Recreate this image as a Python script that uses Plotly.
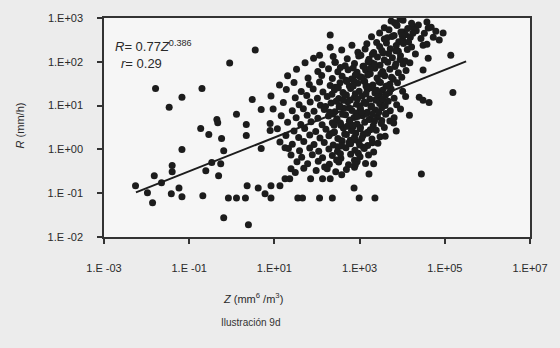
import numpy as np
import plotly.graph_objects as go

# ---- Observations: log10 of reflectivity Z (mm^6/m^3) and rain rate R (mm/h) ----
# Isolated low-reflectivity points
sparse_log_z = [0.55, -0.05, -1.79, -0.70, -1.17, -1.47, 0.48, 0.69, 0.11, -0.35,
                -0.73, 0.34, -0.54, 0.34, 0.90, 0.90, -0.24, -0.19, -1.17, 0.69,
                -1.40, -1.40, -1.82, -1.65, -2.26, -1.98, -1.86, -1.42, -1.24, -1.17,
                -0.68, -0.61, -0.47, -0.31, -0.26, -0.08, 0.11, 0.32, 0.36, 0.62,
                0.78, 0.92, 0.92, -0.19, 0.39, -0.33]
sparse_log_r = [2.27, 1.97, 1.39, 1.39, 1.19, 0.96, 1.14, 0.91, 0.80, 0.68,
                0.48, 0.57, 0.34, 0.32, 0.59, 0.43, 0.25, -0.03, 0.00, 0.02,
                -0.37, -0.51, -0.60, -0.76, -0.83, -0.99, -1.22, -1.01, -0.88, -1.08,
                -1.06, -0.49, -0.30, -0.60, -0.33, -1.11, -1.11, -1.11, -0.83, -0.88,
                -1.01, -1.11, -0.83, -1.56, -1.72, 0.61]

# Points below / right of the main cloud
edge_log_z = [4.45, 3.22, 3.33, 2.87, 2.99, 3.36, 2.36, 2.06, 1.55, 1.66,
              2.13, 2.31, 1.85, 1.25, 1.36, 1.39, 1.13, 2.94, 1.25,
              2.31, 2.31, 2.06, 2.43, 3.82, 4.03, 4.26, 4.61, 4.96, 4.73,
              4.49, 4.87, 5.14, 4.61, 4.49, 5.19, 4.40, 4.63, 4.49, 4.17]
edge_log_r = [-0.56, -0.56, -0.33, -0.88, -1.11, -1.11, -1.11, -1.11, -1.11, -1.11,
              -0.67, -0.67, -0.67, -0.67, -0.67, -0.44, -0.83, -0.26, 0.04,
              2.61, 2.33, 2.15, 1.99, 2.89, 2.68, 2.79, 2.77, 2.66, 2.56,
              2.38, 2.50, 2.15, 2.08, 1.81, 1.30, 1.19, 1.07, 1.12, 0.78]

# Main cloud, as (log10 Z, log10 R) pairs, scanned from top to bottom
cloud_pairs = [
    (3.74, 2.93), (3.86, 2.86), (4.02, 2.95), (4.22, 2.88), (4.58, 2.91), (3.95, 2.97),
    (3.58, 2.78), (3.88, 2.83), (4.13, 2.76), (4.38, 2.84), (4.68, 2.79), (4.30, 2.72),
    (3.47, 2.66), (3.69, 2.73), (3.97, 2.68), (4.08, 2.62), (4.33, 2.71), (4.52, 2.65),
    (4.79, 2.70), (3.81, 2.60),
    (3.28, 2.57), (3.58, 2.52), (3.76, 2.58), (4.01, 2.50), (4.19, 2.56), (4.44, 2.53),
    (3.92, 2.46), (3.40, 2.44),
    (2.82, 2.38), (3.17, 2.41), (3.47, 2.35), (3.63, 2.43), (3.86, 2.37), (4.03, 2.42),
    (4.22, 2.34), (4.58, 2.40), (3.72, 2.30),
    (2.58, 2.27), (2.96, 2.22), (3.13, 2.29), (3.33, 2.21), (3.52, 2.26), (3.68, 2.19),
    (3.91, 2.24), (4.12, 2.28), (4.31, 2.18), (3.03, 2.15),
    (2.38, 2.12), (2.71, 2.07), (2.98, 2.13), (3.22, 2.06), (3.42, 2.11), (3.58, 2.04),
    (3.77, 2.09), (3.96, 2.14), (4.07, 2.02), (1.92, 2.08), (3.30, 2.17),
    (1.72, 1.98), (2.12, 1.93), (2.42, 1.99), (2.66, 1.91), (2.88, 1.96), (3.08, 1.90),
    (3.29, 1.97), (3.48, 1.92), (3.66, 1.99), (3.83, 1.89), (4.02, 1.95), (4.18, 1.98),
    (2.55, 1.87),
    (1.52, 1.83), (2.02, 1.78), (2.27, 1.84), (2.49, 1.77), (2.73, 1.82), (2.94, 1.76),
    (3.14, 1.81), (3.36, 1.85), (3.54, 1.78), (3.71, 1.83), (3.91, 1.75), (4.09, 1.80),
    (2.85, 1.86), (3.25, 1.73),
    (1.31, 1.68), (1.79, 1.63), (2.11, 1.69), (2.36, 1.62), (2.59, 1.67), (2.81, 1.61),
    (3.01, 1.66), (3.19, 1.70), (3.41, 1.63), (3.59, 1.68), (3.79, 1.60), (3.99, 1.65),
    (2.68, 1.58), (3.10, 1.57), (3.50, 1.72),
    (1.12, 1.47), (1.46, 1.53), (1.82, 1.48), (2.06, 1.54), (2.31, 1.46), (2.54, 1.52),
    (2.76, 1.45), (2.96, 1.51), (3.12, 1.55), (3.31, 1.47), (3.49, 1.53), (3.71, 1.49),
    (3.89, 1.52), (2.43, 1.42), (2.87, 1.56), (3.22, 1.43), (3.62, 1.44),
    (1.28, 1.37), (1.63, 1.32), (1.91, 1.38), (2.14, 1.31), (2.41, 1.36), (2.61, 1.30),
    (2.79, 1.39), (2.99, 1.33), (3.18, 1.37), (3.36, 1.29), (3.54, 1.35), (3.74, 1.38),
    (4.01, 1.33), (2.50, 1.41), (2.90, 1.27), (3.27, 1.41), (3.45, 1.26),
    (0.92, 1.22), (1.49, 1.18), (1.76, 1.23), (2.01, 1.17), (2.24, 1.21), (2.51, 1.16),
    (2.69, 1.24), (2.88, 1.19), (3.06, 1.22), (3.24, 1.15), (3.43, 1.20), (3.61, 1.24),
    (3.81, 1.17), (4.08, 1.21), (2.35, 1.26), (2.78, 1.13), (3.15, 1.27), (3.52, 1.12),
    (1.21, 1.07), (1.58, 1.02), (1.84, 1.08), (2.08, 1.01), (2.33, 1.06), (2.53, 1.00),
    (2.72, 1.09), (2.93, 1.03), (3.11, 1.08), (3.28, 0.99), (3.47, 1.05), (3.67, 1.10),
    (3.87, 1.02), (2.62, 1.12), (3.01, 0.97), (3.38, 1.12), (2.20, 0.98),
    (0.97, 0.92), (1.42, 0.88), (1.68, 0.93), (1.93, 0.87), (2.17, 0.91), (2.42, 0.86),
    (2.63, 0.94), (2.82, 0.89), (3.02, 0.93), (3.18, 0.85), (3.37, 0.90), (3.52, 0.95),
    (3.72, 0.88), (3.96, 0.92), (2.52, 0.97), (2.92, 0.83), (3.27, 0.96), (3.62, 0.82),
    (1.16, 0.77), (1.51, 0.72), (1.77, 0.78), (2.02, 0.71), (2.27, 0.76), (2.47, 0.70),
    (2.67, 0.79), (2.87, 0.73), (3.07, 0.77), (3.26, 0.69), (3.42, 0.74), (3.61, 0.80),
    (3.81, 0.72), (2.37, 0.81), (2.77, 0.67), (3.16, 0.82), (3.52, 0.66),
    (1.31, 0.62), (1.62, 0.57), (1.86, 0.63), (2.12, 0.56), (2.36, 0.61), (2.56, 0.55),
    (2.76, 0.64), (2.94, 0.58), (3.12, 0.62), (3.32, 0.54), (3.51, 0.59), (3.71, 0.65),
    (2.46, 0.67), (2.84, 0.51), (3.22, 0.68), (3.02, 0.50),
    (1.07, 0.47), (1.46, 0.42), (1.71, 0.48), (1.97, 0.41), (2.21, 0.46), (2.41, 0.40),
    (2.62, 0.49), (2.81, 0.43), (3.01, 0.47), (3.19, 0.39), (3.39, 0.44), (3.58, 0.50),
    (3.86, 0.42), (2.31, 0.36), (2.71, 0.53), (3.09, 0.35), (2.91, 0.37),
    (1.27, 0.32), (1.57, 0.27), (1.83, 0.33), (2.07, 0.26), (2.28, 0.31), (2.49, 0.25),
    (2.69, 0.34), (2.88, 0.28), (3.08, 0.32), (3.29, 0.24), (3.48, 0.29), (2.38, 0.38),
    (2.78, 0.21), (3.18, 0.37), (2.58, 0.20),
    (1.13, 0.17), (1.42, 0.12), (1.69, 0.18), (1.93, 0.11), (2.17, 0.16), (2.38, 0.10),
    (2.59, 0.19), (2.79, 0.13), (2.98, 0.17), (3.19, 0.09), (3.43, 0.14), (2.49, 0.06),
    (2.88, 0.22), (3.09, 0.05),
    (1.33, 0.02), (1.59, -0.03), (1.83, 0.03), (2.04, -0.04), (2.28, 0.01), (2.48, -0.05),
    (2.68, 0.04), (2.89, -0.02), (3.11, 0.02), (3.33, -0.06), (2.58, 0.08), (2.97, -0.09),
    (1.39, -0.13), (1.64, -0.18), (1.89, -0.12), (2.13, -0.19), (2.36, -0.14), (2.56, -0.20),
    (2.79, -0.11), (3.01, -0.17), (3.21, -0.13), (2.46, -0.24), (2.88, -0.25),
    (1.53, -0.28), (1.78, -0.33), (2.03, -0.27), (2.29, -0.34), (2.51, -0.29), (2.74, -0.35),
    (2.94, -0.28), (3.14, -0.32), (2.18, -0.40),
    (1.69, -0.43), (1.98, -0.48), (2.24, -0.44), (2.44, -0.51), (2.69, -0.46), (2.88, -0.41),
    (1.49, -0.53), (2.58, -0.58),
]

# Extra points filling the dense core of the cloud
core_pairs = [
    (2.65, 1.25), (2.85, 1.45), (3.05, 1.65), (3.25, 1.85), (3.45, 1.55), (3.15, 1.05),
    (2.95, 0.75), (2.75, 0.95), (3.35, 0.65), (3.55, 1.15), (3.65, 1.45), (2.55, 0.60),
    (2.45, 1.10), (3.05, 0.25), (3.25, 0.45), (2.65, 0.35), (3.45, 0.85), (3.75, 1.65),
    (3.85, 1.95), (3.55, 2.20), (3.65, 2.55), (3.95, 2.05), (4.15, 2.45), (3.35, 1.95),
    (2.95, 1.15), (3.15, 1.45), (2.85, 0.55), (3.05, 0.85), (2.60, 0.80), (3.40, 1.35),
    (3.30, 0.80), (2.70, 1.55), (3.55, 1.75), (3.20, 2.00), (2.75, 0.15), (3.00, 0.10),
    (2.40, 0.55), (3.60, 1.00), (3.70, 1.30), (2.30, 0.85), (3.10, 1.90), (2.90, 1.70),
    (3.85, 2.25), (4.00, 2.60), (4.25, 2.65), (3.60, 0.30), (3.80, 0.60), (3.30, 0.15),
    (2.55, -0.10), (2.90, -0.35),
]

# Power-law fit R = a * Z^b and its correlation
FIT_COEF = 0.77
FIT_EXP = 0.386
FIT_CORR = 0.29
FIT_LOG_Z_RANGE = [-2.25, 5.5]

# Axis ticks
x_tick_vals = [1e-3, 1e-1, 1e1, 1e3, 1e5, 1e7]
x_tick_text = ["1.E -03", "1.E -01", "1.E+01", "1.E+03", "1.E+05", "1.E+07"]
y_tick_vals = [1e-2, 1e-1, 1e0, 1e1, 1e2, 1e3]
y_tick_text = ["1.E -02", "1.E -01", "1.E+00", "1.E+01", "1.E+02", "1.E+03"]

# ---- Assemble the scatter ----
all_pairs = cloud_pairs + core_pairs
log_z = list(sparse_log_z) + list(edge_log_z) + [p[0] for p in all_pairs]
log_r = list(sparse_log_r) + list(edge_log_r) + [p[1] for p in all_pairs]
z_vals = 10.0 ** np.array(log_z)
r_vals = 10.0 ** np.array(log_r)

fit_z = 10.0 ** np.linspace(FIT_LOG_Z_RANGE[0], FIT_LOG_Z_RANGE[1], 50)
fit_r = FIT_COEF * fit_z ** FIT_EXP

ink = "#1c1c1c"
font_family = "Liberation Sans, Arial, sans-serif"

fig = go.Figure()
fig.add_trace(go.Scatter(
    x=z_vals, y=r_vals, mode="markers",
    marker=dict(symbol="circle", size=7, color=ink, line=dict(width=0)),
    showlegend=False,
))
fig.add_trace(go.Scatter(
    x=fit_z, y=fit_r, mode="lines",
    line=dict(color=ink, width=2), showlegend=False,
))

axis_common = dict(
    type="log", showgrid=False, zeroline=False,
    showline=True, linecolor="#333333", linewidth=1.5, mirror=True,
    ticks="outside", ticklen=5, tickcolor="#333333", tickwidth=1.5,
    tickfont=dict(family=font_family, size=11, color="#2a2a2a"),
)
fig.update_xaxes(range=[-3, 7], tickvals=x_tick_vals, ticktext=x_tick_text,
                 ticklabelstandoff=15, **axis_common)
fig.update_yaxes(range=[-2, 3], tickvals=y_tick_vals, ticktext=y_tick_text,
                 ticklabelstandoff=12, **axis_common)

eq_text = f"<i>R</i>= {FIT_COEF:g}<i>Z</i><sup>{FIT_EXP:g}</sup>"
fig.add_annotation(text=eq_text, xref="paper", yref="paper", x=0.02, y=0.87,
                   xanchor="left", yanchor="middle", showarrow=False,
                   font=dict(family=font_family, size=13, color="#2a2a2a"))
fig.add_annotation(text=f"<i>r</i>= {FIT_CORR:g}", xref="paper", yref="paper",
                   x=0.035, y=0.79, xanchor="left", yanchor="middle", showarrow=False,
                   font=dict(family=font_family, size=13, color="#2a2a2a"))
fig.add_annotation(text="<i>Z</i> (mm<sup>6</sup> /m<sup>3</sup>)", xref="paper", yref="paper",
                   x=0.35, y=-0.28, xanchor="center", yanchor="middle", showarrow=False,
                   font=dict(family=font_family, size=11, color="#2a2a2a"))
fig.add_annotation(text="Ilustración 9d", xref="paper", yref="paper",
                   x=0.345, y=-0.39, xanchor="center", yanchor="middle", showarrow=False,
                   font=dict(family=font_family, size=10, color="#333333"))
fig.add_annotation(text="<i>R</i> (mm/h)", xref="paper", yref="paper",
                   x=-0.197, y=0.51, xanchor="center", yanchor="middle", showarrow=False,
                   textangle=-90,
                   font=dict(family=font_family, size=11, color="#2a2a2a"))

fig.update_layout(
    width=560, height=348,
    margin=dict(l=104, r=25, t=18, b=111),
    paper_bgcolor="#ececec", plot_bgcolor="#f6f6f6",
    font=dict(family=font_family),
)

fig.write_html("out.html")
